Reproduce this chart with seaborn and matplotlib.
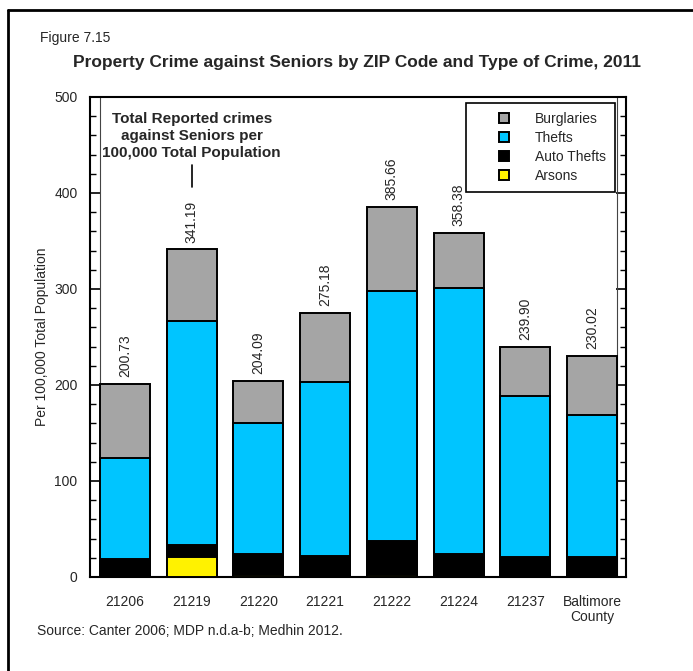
import numpy as np
import pandas as pd
import matplotlib
matplotlib.use("Agg")
import matplotlib.pyplot as plt
import seaborn as sns
from matplotlib.patches import Patch, Rectangle
from matplotlib.lines import Line2D
from matplotlib.legend_handler import HandlerPatch
from matplotlib.ticker import MultipleLocator

categories = ["21206", "21219", "21220", "21221", "21222", "21224", "21237", "Baltimore\nCounty"]
arsons = [0.0, 20.5, 2.0, 0.0, 2.0, 0.0, 0.0, 0.0]
auto_thefts = [19.1, 12.5, 22.0, 22.3, 35.6, 24.0, 20.9, 20.9]
thefts = [104.4, 234.0, 136.0, 180.7, 260.4, 277.4, 168.1, 147.6]
burglaries = [77.23, 74.19, 44.09, 72.18, 87.66, 56.98, 50.90, 61.52]
total_labels = ["200.73", "341.19", "204.09", "275.18", "385.66", "358.38", "239.90", "230.02"]

series_names = ["Burglaries", "Thefts", "Auto Thefts", "Arsons"]
colors = {"Burglaries": "#A5A5A5", "Thefts": "#00C5FF", "Auto Thefts": "#000000", "Arsons": "#FFF200"}

sns.set_style("white")
plt.rcParams['font.family'] = ['Liberation Sans', 'DejaVu Sans']

fig = plt.figure(figsize=(6.93, 6.71), dpi=100)
W, H = 693, 671
ax = fig.add_axes([90 / W, 1 - 577 / H, 536 / W, 480 / H])

a = np.array(arsons)
b = a + np.array(auto_thefts)
c = b + np.array(thefts)
d = c + np.array(burglaries)

df = pd.DataFrame({"cat": categories, "Burglaries": d, "Thefts": c, "Auto Thefts": b, "Arsons": a})
for name in series_names:
    sns.barplot(data=df, x="cat", y=name, order=categories, color=colors[name], saturation=1,
                width=0.75, edgecolor="black", linewidth=1.4, ax=ax, zorder=3)

ax.set_xlim(-0.525, 7.51)
ax.set_ylim(0, 500)
ax.yaxis.set_major_locator(MultipleLocator(100))
ax.yaxis.set_minor_locator(MultipleLocator(20))
ax.tick_params(axis="y", which="major", direction="in", length=7.2, width=1.2, left=True, right=True,
               labelsize=10, pad=9, color="black")
ax.tick_params(axis="y", which="minor", direction="in", length=4.5, width=1.0, left=True, right=True, color="black")
ax.tick_params(axis="x", length=0, labelsize=10, pad=13)
for t in ax.get_xticklabels():
    t.set_linespacing(1.05)
ax.set_xlabel("")
ax.set_ylabel("Per 100,000 Total Population", fontsize=10, labelpad=3.5)
for s in ax.spines.values():
    s.set_linewidth(1.5)
    s.set_color("black")

# inner frame lines
ax.axvline(-0.375, color="#444444", lw=0.8, zorder=1)
ax.axvline(7.375, color="#444444", lw=0.8, zorder=1)

# total labels
for i, lab in enumerate(total_labels):
    ax.annotate(lab, xy=(i, d[i]), xytext=(0, 5), textcoords="offset points",
                rotation=90, ha="center", va="bottom", fontsize=10)

# annotation text and line
ax.text(1, 484.5, "Total Reported crimes\nagainst Seniors per\n100,000 Total Population",
        ha="center", va="top", fontsize=11, fontweight="bold", linespacing=1.27)
ax.plot([1, 1], [406.6, 429.5], color="black", lw=1.2)


# legend with square markers placed at the right end of a wide handle box
def square_patch(legend, orig_handle, xdescent, ydescent, width, height, fontsize):
    s = height
    return Rectangle((-xdescent + width - s, -ydescent), s, s)


handles = [Patch(facecolor=colors[n], edgecolor="black", linewidth=1.4) for n in series_names]
leg = ax.legend(handles, series_names, loc="upper right", bbox_to_anchor=(0.9795, 0.9875),
                fontsize=10, frameon=True, fancybox=False, edgecolor="black",
                handlelength=2.45, handleheight=0.75, handletextpad=1.85, borderpad=0.65,
                labelspacing=0.35, borderaxespad=0.0, framealpha=1,
                handler_map={Patch: HandlerPatch(patch_func=square_patch)})
leg.get_frame().set_linewidth(1.2)

fig.text(40 / W, 1 - 38 / H, "Figure 7.15", fontsize=10, ha="left", va="center")
fig.text(357 / W, 1 - 63 / H, "Property Crime against Seniors by ZIP Code and Type of Crime, 2011",
         fontsize=12.5, fontweight="bold", ha="center", va="center")
fig.text(37 / W, 1 - 631 / H, "Source: Canter 2006; MDP n.d.a-b; Medhin 2012.", fontsize=10,
         ha="left", va="center")

# outer figure border (left and top visible)
fig.add_artist(Line2D([8 / W, 8 / W], [0, 1 - 10 / H], transform=fig.transFigure, color="black", lw=2))
fig.add_artist(Line2D([8 / W, 1], [1 - 10 / H, 1 - 10 / H], transform=fig.transFigure, color="black", lw=2))

fig.savefig("out.png", dpi=100)
